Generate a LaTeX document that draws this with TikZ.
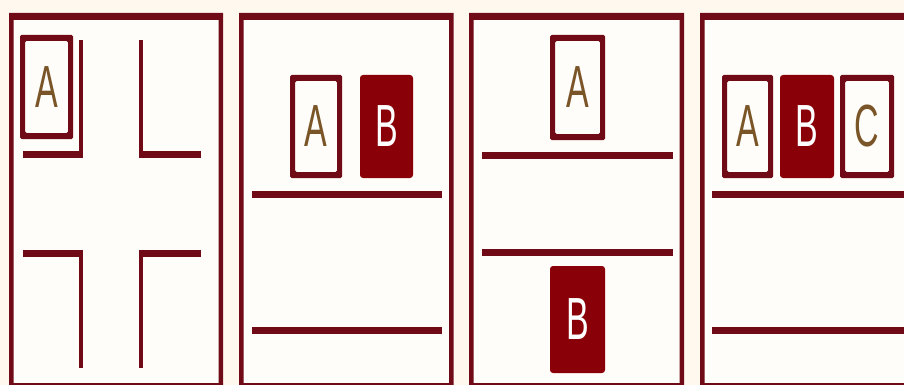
\documentclass[tikz,border=0pt]{standalone}
\usepackage{graphicx}
\usepackage{fontspec}
\newfontfamily\letterfont{Liberation Sans}
\definecolor{bgout}{HTML}{FFF8EE}
\definecolor{bgin}{HTML}{FFFDF9}
\definecolor{dred}{HTML}{700A16}
\definecolor{fred}{HTML}{8A0008}
\definecolor{ltrbrown}{HTML}{7A5528}
\newcommand\myltr[1]{\scalebox{1}[1.75]{#1}}
\newcommand\myboxframe[1]{\fill[dred,even odd rule,rounded corners=1.5pt] (#1.north west) rectangle (#1.south east) ([xshift=5pt,yshift=-6pt]#1.north west) rectangle ([xshift=-5pt,yshift=6pt]#1.south east);}
\newcommand\mypanelframe[4]{\fill[bgin] (#1,#2) rectangle (#3,#4);
  \fill[dred,even odd rule] (#1,#2) rectangle (#3,#4) (#1+4.5,#2+7) rectangle (#3-4.5,#4-7);}
\begin{document}
\begin{tikzpicture}[x=1pt,y=-1pt,
  letterbox/.style={anchor=north west,inner sep=0pt,outer sep=0pt,
    font=\letterfont\fontsize{34}{34}\selectfont},
  openbox/.style={letterbox,text=ltrbrown},
  solidbox/.style={letterbox,fill=fred,text=white,rounded corners=3pt},
  hline/.style={dred,line width=7pt},
  vline/.style={dred,line width=4.5pt}]
\useasboundingbox (0,0) rectangle (904,385);
\fill[bgout] (0,0) rectangle (904,385);
% panels
\mypanelframe{9}{13}{223}{390}
\mypanelframe{239}{13}{453.5}{390}
\mypanelframe{469}{13}{684}{390}
\mypanelframe{700}{13}{916}{390}
% panel 1
\node[openbox,minimum width=53pt,minimum height=104pt] (p1a) at (20,35) {\myltr{A}};
\myboxframe{p1a}
\draw[hline] (23,154) -- (83,154);
\draw[vline] (81,40) -- (81,157);
\draw[hline] (139,154) -- (201,154);
\draw[vline] (141,40) -- (141,157);
\draw[hline] (23,253) -- (83,253);
\draw[vline] (81,250) -- (81,368);
\draw[hline] (139,253) -- (201,253);
\draw[vline] (141,250) -- (141,368);
% panel 2
\node[openbox,minimum width=52pt,minimum height=103pt] (p2a) at (290,75) {\myltr{A}};
\myboxframe{p2a}
\node[solidbox,minimum width=53pt,minimum height=103pt] (p2b) at (360,75) {\myltr{B}};
\draw[hline] (252,194) -- (442,194);
\draw[hline] (252,330) -- (442,330);
% panel 3
\node[openbox,minimum width=55pt,minimum height=105pt] (p3a) at (550,35) {\myltr{A}};
\myboxframe{p3a}
\draw[hline] (482,155) -- (673,155);
\draw[hline] (482,252) -- (673,252);
\node[solidbox,minimum width=55pt,minimum height=107pt] (p3b) at (550,266) {\myltr{B}};
% panel 4
\node[openbox,minimum width=51pt,minimum height=103pt] (p4a) at (722,75) {\myltr{A}};
\myboxframe{p4a}
\node[solidbox,minimum width=54pt,minimum height=103pt] (p4b) at (780,75) {\myltr{B}};
\node[openbox,minimum width=54pt,minimum height=103pt] (p4c) at (840,75) {\myltr{C}};
\myboxframe{p4c}
\draw[hline] (712,194) -- (910,194);
\draw[hline] (712,330) -- (910,330);
\end{tikzpicture}
\end{document}
